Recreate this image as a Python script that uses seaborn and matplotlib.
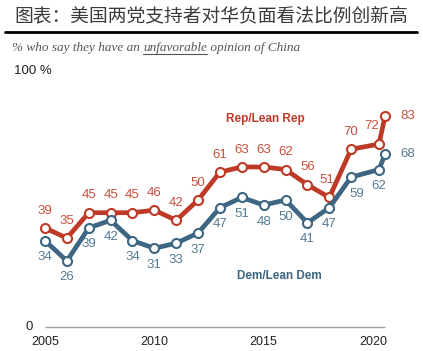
import pandas as pd
import seaborn as sns
import numpy as np
import matplotlib.pyplot as plt

# survey waves (two in 2020: spring and summer)
years = [2005, 2006, 2007, 2008, 2009, 2010, 2011, 2012, 2013, 2014,
         2015, 2016, 2017, 2018, 2019, 2020.27, 2020.55]
rep = [39, 35, 45, 45, 45, 46, 42, 50, 61, 63, 63, 62, 56, 51, 70, 72, 83]
dem = [34, 26, 39, 42, 34, 31, 33, 37, 47, 51, 48, 50, 41, 47, 59, 62, 68]
xticks = [2005, 2010, 2015, 2020]

rep_c, dem_c = '#BE3A26', '#3C6682'
rep_t, dem_t = '#C8503C', '#557A93'

df = pd.concat([
    pd.DataFrame({'year': years, 'pct': rep, 'party': 'Rep/Lean Rep'}),
    pd.DataFrame({'year': years, 'pct': dem, 'party': 'Dem/Lean Dem'}),
])

sns.set_style('white')
plt.rcParams['font.family'] = ['Noto Sans CJK SC', 'DejaVu Sans']

W, H = 423, 351
fig = plt.figure(figsize=(W / 100, H / 100), dpi=100)

# pixel -> data mapping
px_per_yr = 21.87
x0px, y0px, px_per_pct = 45, 327, 2.54
L, R, T, B = 35, 410, 60, 335
ax = fig.add_axes([L / W, 1 - B / H, (R - L) / W, (B - T) / H])
ax.set_xlim(2005 + (L - x0px) / px_per_yr, 2005 + (R - x0px) / px_per_yr)
ax.set_ylim((y0px - B) / px_per_pct, (y0px - T) / px_per_pct)

pal = {'Rep/Lean Rep': rep_c, 'Dem/Lean Dem': dem_c}
sns.lineplot(data=df, x='year', y='pct', hue='party', palette=pal,
             marker='o', markersize=6.5, markerfacecolor='white',
             markeredgewidth=1.5, linewidth=3.4, legend=False, ax=ax,
             zorder=3)
for ln in ax.lines:
    ln.set_markeredgecolor(ln.get_color())

ax.hlines(0, 2005, 2020.55, color='#a0a0a0', lw=1, zorder=1)
sns.despine(ax=ax, left=True, bottom=True)
ax.set_xticks(xticks)
ax.set_xticklabels([str(t) for t in xticks], fontsize=9, color='#222222',
                   family='Liberation Sans')
ax.tick_params(axis='x', length=0, pad=1)
ax.set_yticks([])
ax.set_xlabel('')
ax.set_ylabel('')

# value labels
fs = 9.5
for i, (x, v) in enumerate(zip(years, rep)):
    if i == len(years) - 1:
        ax.text(x + 0.7, v, str(v), color=rep_t, fontsize=fs, ha='left',
                va='center', family='Liberation Sans')
    elif i == len(years) - 2:
        ax.text(x - 0.35, v + 7, str(v), color=rep_t, fontsize=fs,
                ha='center', va='center', family='Liberation Sans')
    else:
        dx = -0.1 if i == 13 else 0
        ax.text(x + dx, v + 6.8, str(v), color=rep_t, fontsize=fs,
                ha='center', va='center', family='Liberation Sans')
for i, (x, v) in enumerate(zip(years, dem)):
    if i == len(years) - 1:
        ax.text(x + 0.7, v, str(v), color=dem_t, fontsize=fs, ha='left',
                va='center', family='Liberation Sans')
    else:
        dx = 0.25 if i == 14 else 0
        ax.text(x + dx, v - 6.5, str(v), color=dem_t, fontsize=fs,
                ha='center', va='center', family='Liberation Sans')

ax.text(2015.06, 81.9, 'Rep/Lean Rep', color=rep_c, fontsize=8.5,
        fontweight='bold', ha='center', va='center', family='Liberation Sans')
ax.text(2015.7, 20, 'Dem/Lean Dem', color=dem_c, fontsize=8.5,
        fontweight='bold', ha='center', va='center', family='Liberation Sans')

# y labels
fig.text(14 / W, 1 - 71 / H, '100 %', fontsize=9.5, color='#222222',
         ha='left', va='center', family='Liberation Sans')
fig.text(33 / W, 1 - 327 / H, '0', fontsize=9.5, color='#222222',
         ha='right', va='center', family='Liberation Sans')

# title and rule
fig.text(0.5, 1 - 16 / H, '图表：美国两党支持者对华负面看法比例创新高',
         fontsize=13.5, color='#3a3a3a', ha='center', va='center',
         fontweight='light')
fig.add_artist(plt.Line2D([5 / W, 417 / W], [1 - 32 / H, 1 - 32 / H],
                          color='black', lw=2))

# subtitle with underlined word
parts = ['% who say they have an ', 'unfavorable', ' opinion of China']
fig.canvas.draw()
rend = fig.canvas.get_renderer()
xp = 12
for j, p in enumerate(parts):
    t = fig.text(xp / W, 1 - 48 / H, p, fontsize=9.5, color='#555555',
                 style='italic', family='Liberation Serif', ha='left',
                 va='center')
    bb = t.get_window_extent(rend)
    if j == 1:
        fig.add_artist(plt.Line2D([xp / W, (xp + bb.width) / W],
                                  [1 - 54 / H, 1 - 54 / H],
                                  color='#555555', lw=0.8))
    xp += bb.width

fig.savefig('out.png', dpi=100)
